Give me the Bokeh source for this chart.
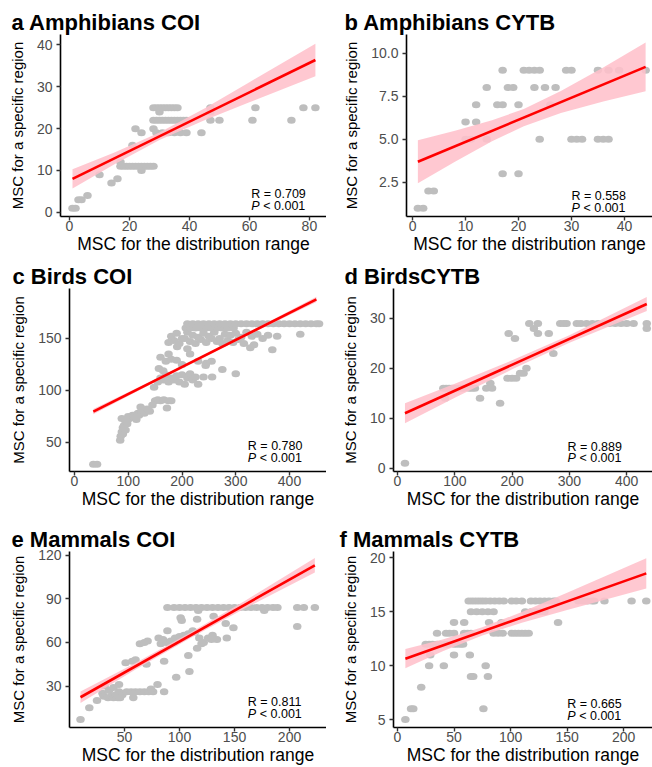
from bokeh.plotting import figure
from bokeh.layouts import column, row
from bokeh.models import Range1d, FixedTicker, NumeralTickFormatter
from bokeh.core.properties import value
from bokeh.embed import file_html
from bokeh.resources import INLINE

FONT = "Liberation Sans"

# ---------------- a Amphibians COI ----------------
a_x = [1, 2, 3, 4, 6, 10, 14, 16,
       17, 17, 18, 19, 20, 21, 22, 23, 24, 25, 26, 27, 28,
       24,
       21, 22, 24, 28,
       29, 31, 33, 35, 37, 39, 44,
       28, 29, 30, 31, 32, 33, 34, 35, 36, 37, 38, 39,
       47, 50, 61, 74,
       30, 47,
       28, 29, 30, 31, 32, 33, 34, 35, 36,
       47, 62, 78, 82]
a_y = [1, 1, 3, 3, 4, 9, 7, 8,
       12, 11, 11, 11, 11, 11, 11, 11, 11, 11, 11, 11, 11,
       10,
       16, 20, 19, 20,
       19, 19, 19, 19, 19, 19, 19,
       22, 22, 22, 22, 22, 22, 22, 22, 22, 22, 22, 22,
       22, 22, 22, 22,
       24, 24,
       25, 25, 25, 25, 25, 25, 25, 25, 25,
       25, 25, 25, 25]
a_fit_x = [1, 82]
a_fit_y = [8.0, 36.4]
a_band_x = [1, 15, 30, 45, 60, 82]
a_band_lo = [5.7, 11.5, 17.3, 22.0, 26.3, 32.5]
a_band_hi = [10.3, 14.3, 19.1, 24.8, 31.1, 40.3]
a_xticks = [0, 20, 40, 60, 80]
a_yticks = [0, 10, 20, 30, 40]

# ---------------- b Amphibians CYTB ----------------
b_x = [1, 2, 3, 4, 17, 20,
       10, 11, 14, 24, 30, 31, 32, 35, 36, 37,
       10, 12,
       12, 16, 17, 20, 26,
       14, 18, 19, 23, 25, 27,
       17, 21, 22, 23, 24, 29, 30, 35, 37, 39, 44]
b_y = [1, 1, 2, 2, 3, 3,
       5, 5, 5, 5, 5, 5, 5, 5, 5, 5,
       6, 6,
       7, 7, 7, 7, 7,
       8, 8, 8, 8, 8, 8,
       9, 9, 9, 9, 9, 9, 9, 9, 9, 9, 9]
b_fit_x = [1, 44]
b_fit_y = [3.7, 9.2]
b_band_x = [1, 8, 15, 21, 28, 36, 44]
b_band_lo = [2.45, 3.70, 4.88, 5.76, 6.52, 7.19, 7.79]
b_band_hi = [4.95, 5.50, 6.10, 6.76, 7.80, 9.17, 10.61]
b_xticks = [0, 10, 20, 30, 40]
b_yticks = [2.5, 5.0, 7.5, 10.0]

# ---------------- c Birds COI ----------------
c_x = [35, 42,
       85, 86, 88, 88, 90, 90, 92, 95, 95, 98,
       100, 100, 105, 108, 110, 112, 115, 118, 120, 123,
       125, 130, 135, 140, 145, 150, 155, 160, 166, 172,
       175, 180,
       148, 155, 160, 165, 170, 175, 180, 185, 190, 195,
       200, 205, 210, 215, 220, 225, 230, 240, 256, 275,
       300, 157, 165, 160, 170, 180, 190, 175, 200, 215,
       230, 245, 255, 244, 191, 210,
       175, 185, 195, 205, 215, 225, 235, 245, 255, 265, 275, 285, 295, 305, 315, 334,
       327, 368, 420,
       180, 190, 200, 210, 220, 230, 240, 250, 260, 270,
       280, 290, 300, 310, 320, 330, 340, 350, 360, 377,
       207, 215, 225, 235, 245, 255, 265, 275, 285, 296,
       210, 220, 230, 240, 250, 260, 270, 280, 290, 300, 310, 320, 330,
       340, 350, 360, 370, 380, 390, 400, 410, 420, 430, 440, 450, 455]
c_y = [29, 29,
       52, 56, 60, 73, 58, 64, 66, 62, 70, 68,
       72, 75, 74, 76, 74, 76, 72, 78, 76, 84,
       80, 78, 82, 80, 86, 90, 91, 90, 91, 83,
       90, 90,
       103, 108, 112, 110, 115, 108, 112, 110, 114, 108,
       115, 106, 112, 116, 110, 113, 106, 113, 113, 120,
       116, 121, 119, 132, 128, 130, 129, 135, 125, 135,
       128, 126, 128, 124, 142, 140,
       146, 148, 145, 150, 147, 145, 149, 146, 150, 147, 145, 148, 146, 149, 145, 144,
       141, 139, 154,
       152, 155, 150, 156, 153, 151, 155, 152, 156, 150,
       154, 153, 155, 151, 156, 152, 154, 150, 153, 152,
       160, 160, 160, 160, 160, 160, 160, 160, 160, 160,
       164, 164, 164, 164, 164, 164, 164, 164, 164, 164, 164, 164, 164,
       164, 164, 164, 164, 164, 164, 164, 164, 164, 164, 164, 164, 164]
c_fit_x = [35, 450]
c_fit_y = [79.5, 187.5]
c_band_x = [35, 150, 250, 350, 450]
c_band_lo = [77.0, 108.1, 134.4, 160.0, 185.0]
c_band_hi = [82.0, 110.7, 136.4, 162.8, 190.0]
c_xticks = [0, 100, 200, 300, 400]
c_yticks = [50, 100, 150]

# ---------------- d BirdsCYTB ----------------
d_x = [13, 83, 144, 179,
       80, 85, 90, 95, 100, 105, 110, 115, 125, 130, 135, 155,
       162, 165,
       192, 200, 207, 214, 220, 225,
       194, 205, 264, 272,
       230, 245, 238, 245,
       284, 290, 295, 313, 320, 330, 340, 350, 360, 370, 380, 390, 400, 412, 435,
       435]
d_y = [1, 14, 14, 13,
       16, 16, 16, 16, 16, 16, 16, 16, 16, 16, 16, 16,
       17, 16,
       18, 18, 18, 19, 19, 20,
       27, 26, 27, 23,
       29, 29, 28, 27,
       29, 29, 29, 29, 29, 29, 29, 29, 29, 29, 29, 29, 29, 29, 29,
       28]
d_fit_x = [13, 435]
d_fit_y = [11.0, 32.9]
d_band_x = [13, 100, 200, 300, 435]
d_band_lo = [9.0, 14.1, 19.8, 25.15, 31.5]
d_band_hi = [13.0, 16.9, 21.6, 26.65, 34.3]
d_xticks = [0, 100, 200, 300, 400]
d_yticks = [0, 10, 20, 30]

# ---------------- e Mammals COI ----------------
e_x = [10, 18, 25, 30, 31, 35, 36, 38, 40, 42,
       44, 45, 46, 48, 58, 32, 40, 45, 52, 56,
       60, 64, 68, 72, 76, 86, 74, 80, 97, 109,
       108, 86, 51, 57, 60, 70, 64, 68, 71, 81,
       85, 89, 101, 102, 83, 88, 92, 95, 96, 100,
       104, 108, 112, 114, 118, 122, 126, 130, 134, 116,
       120, 116, 131, 142, 143, 149, 129, 207, 117, 177,
       89, 95, 100, 105, 110, 115, 120, 125, 130, 135, 140, 145,
       150, 155, 160, 165, 170, 175, 180, 185, 189, 207, 213, 223]
e_y = [7, 15, 20, 25, 23, 22, 27, 23, 22, 24,
       22, 26, 22, 24, 22, 30, 29, 31, 26, 26,
       26, 26, 26, 26, 26, 26, 28, 31, 36, 40,
       51, 47, 46, 47, 48, 45, 59, 60, 61, 63,
       62, 68, 77, 75, 59, 60, 61, 60, 63, 64,
       65, 66, 68, 67, 63, 60, 63, 65, 62, 56,
       59, 76, 78, 73, 63, 70, 62, 71, 82, 82,
       84, 84, 84, 84, 84, 84, 84, 84, 84, 84, 84, 84,
       84, 84, 84, 84, 84, 84, 84, 84, 84, 84, 84, 84]
e_fit_x = [10, 223]
e_fit_y = [22.3, 113.0]
e_band_x = [10, 60, 110, 160, 223]
e_band_lo = [18.3, 41.3, 63.0, 83.6, 108.0]
e_band_hi = [26.3, 45.9, 66.8, 88.8, 118.0]
e_xticks = [50, 100, 150, 200]
e_yticks = [30, 60, 90, 120]

# ---------------- f Mammals CYTB ----------------
f_x = [7, 12, 14, 76, 21, 65, 67, 80, 28, 41,
       78, 29, 50, 64,
       25, 28, 31, 35, 38, 42, 45, 50, 53, 56, 58,
       35, 43, 46, 50, 59, 62, 65, 85, 89, 93, 101, 104, 107, 110, 113, 116,
       50, 59, 81, 92, 142,
       65, 70, 75, 80, 85, 113, 118, 122, 126, 130,
       63, 66, 69, 72, 75, 78, 82, 86, 90, 94, 101, 105, 110, 118,
       122, 126, 130, 134, 138, 140, 160, 164, 168, 172, 174, 183, 207, 220]
f_y = [5, 6, 6, 6, 8, 9, 9, 9, 10, 10,
       10, 11, 11, 11,
       12, 12, 12, 12, 12, 12, 12, 12, 12, 12, 12,
       13, 13, 13, 13, 13, 13, 13, 13, 13, 13, 13, 13, 13, 13, 13, 13,
       14, 14, 14, 14, 14,
       15, 15, 15, 15, 15, 15, 15, 15, 15, 15,
       16, 16, 16, 16, 16, 16, 16, 16, 16, 16, 16, 16, 16, 16,
       16, 16, 16, 16, 16, 16, 16, 16, 16, 16, 16, 16, 16, 16]
f_fit_x = [7, 220]
f_fit_y = [10.65, 18.57]
f_band_x = [7, 40, 75, 110, 150, 185, 220]
f_band_lo = [9.75, 11.33, 12.80, 13.98, 15.17, 16.17, 17.17]
f_band_hi = [11.55, 12.43, 13.56, 14.98, 16.77, 18.37, 19.97]
f_xticks = [0, 50, 100, 150, 200]
f_yticks = [5, 10, 15, 20]

titles = ["a Amphibians COI", "b  Amphibians CYTB", "c Birds COI",
          "d BirdsCYTB", "e Mammals COI", "f Mammals CYTB"]
r_texts = ["R = 0.709", "R = 0.558", "R = 0.780", "R = 0.889", "R = 0.811", "R = 0.665"]
p_text = "< 0.001"

for xs, ys in [(a_x, a_y), (b_x, b_y), (c_x, c_y), (d_x, d_y), (e_x, e_y), (f_x, f_y)]:
    assert len(xs) == len(ys)


def panel(title, xs, ys, fx, fy, bx, blo, bhi, xt, yt, xr, yr, border,
          rtext, rpos, height, title_x, yfmt=None):
    left, top, bottom = border
    p = figure(width=326, height=height, output_backend="svg", toolbar_location=None,
               x_range=Range1d(*xr), y_range=Range1d(*yr),
               min_border_left=left, min_border_right=0,
               min_border_top=top, min_border_bottom=bottom)
    p.outline_line_color = None
    p.background_fill_color = "white"
    p.border_fill_color = "white"
    p.xgrid.visible = False
    p.ygrid.visible = False

    p.ellipse(x=xs, y=ys, width=8.5, height=7, width_units="screen", height_units="screen",
              fill_color="#bebebe", line_color=None)
    p.varea(x=bx, y1=blo, y2=bhi, fill_color="#ffc0cb", fill_alpha=0.88)
    p.line(x=fx, y=fy, line_color="#ff0000", line_width=2.6)

    rx, ry, py = rpos
    p.text(x=[rx], y=[ry], text=[rtext], text_font=value(FONT), text_font_size="12.5px",
           text_baseline="middle", text_align="left", text_color="black")
    p.text(x=[rx], y=[py], text=["P"], text_font=value(FONT), text_font_size="12.5px",
           text_font_style="italic", text_baseline="middle", text_align="left",
           text_color="black")
    p.text(x=[rx], y=[py], text=[p_text], text_font=value(FONT), text_font_size="12.5px",
           text_baseline="middle", text_align="left", text_color="black", x_offset=12)

    p.title.text = title
    p.title.text_font = FONT
    p.title.text_font_size = "22px"
    p.title.text_font_style = "bold"
    p.title.text_color = "black"
    p.title.align = "left"
    p.title.offset = title_x - left
    p.title.standoff = 0

    p.xaxis.ticker = FixedTicker(ticks=xt)
    p.yaxis.ticker = FixedTicker(ticks=yt)
    if yfmt:
        p.yaxis.formatter = NumeralTickFormatter(format=yfmt)
    p.xaxis.axis_label = "MSC for the distribution range"
    p.yaxis.axis_label = "MSC for a specific region"
    for ax in (p.xaxis[0], p.yaxis[0]):
        ax.axis_line_color = "black"
        ax.axis_line_width = 1.6
        ax.major_tick_line_color = "#333333"
        ax.major_tick_line_width = 1.4
        ax.major_tick_out = 4
        ax.major_tick_in = 0
        ax.minor_tick_line_color = None
        ax.major_label_text_font = FONT
        ax.major_label_text_font_size = "14px"
        ax.major_label_text_color = "#4d4d4d"
        ax.axis_label_text_font = FONT
        ax.axis_label_text_font_style = "normal"
        ax.axis_label_text_color = "black"
    p.xaxis.major_label_standoff = 0
    p.xaxis.axis_label_standoff = 0
    p.xaxis.axis_label_text_font_size = "17.5px"
    p.yaxis.major_label_standoff = 4
    p.yaxis.axis_label_standoff = 8
    p.yaxis.axis_label_text_font_size = "15px"
    return p


pa = panel(titles[0], a_x, a_y, a_fit_x, a_fit_y, a_band_x, a_band_lo, a_band_hi,
           a_xticks, a_yticks, (-3, 85.7), (-1, 42.5), (60, 33, 38),
           r_texts[0], (60.6, 4.44, 1.57), 256, 11)
pb = panel(titles[1], b_x, b_y, b_fit_x, b_fit_y, b_band_x, b_band_lo, b_band_hi,
           b_xticks, b_yticks, (-1.15, 45.3), (0.52, 11.08), (80, 34, 37),
           r_texts[1], (30.0, 1.70, 0.99), 256, 18, yfmt="0.0")
pc = panel(titles[2], c_x, c_y, c_fit_x, c_fit_y, c_band_x, c_band_lo, c_band_hi,
           c_xticks, c_yticks, (-9.3, 468.8), (22, 198), (69, 32, 41),
           r_texts[2], (322.5, 46.8, 35.3), 256, 12)
pd = panel(titles[3], d_x, d_y, d_fit_x, d_fit_y, d_band_x, d_band_lo, d_band_hi,
           d_xticks, d_yticks, (-7, 445), (-0.67, 36), (67, 31, 40),
           r_texts[3], (296.5, 4.28, 1.98), 256, 18)
pe = panel(titles[4], e_x, e_y, e_fit_x, e_fit_y, e_band_x, e_band_lo, e_band_hi,
           e_xticks, e_yticks, (0, 233.6), (1.5, 122.5), (69, 39, 34),
           r_texts[4], (162, 18.9, 10.75), 255, 11)
pf = panel(titles[5], f_x, f_y, f_fit_x, f_fit_y, f_band_x, f_band_lo, f_band_hi,
           f_xticks, f_yticks, (-3.5, 225.5), (4.26, 20.6), (67, 38, 34),
           r_texts[5], (150.1, 6.43, 5.3), 255, 13)

layout = column(row(pa, pb), row(pc, pd), row(pe, pf))

open("out.html", "w").write(file_html(layout, INLINE))
